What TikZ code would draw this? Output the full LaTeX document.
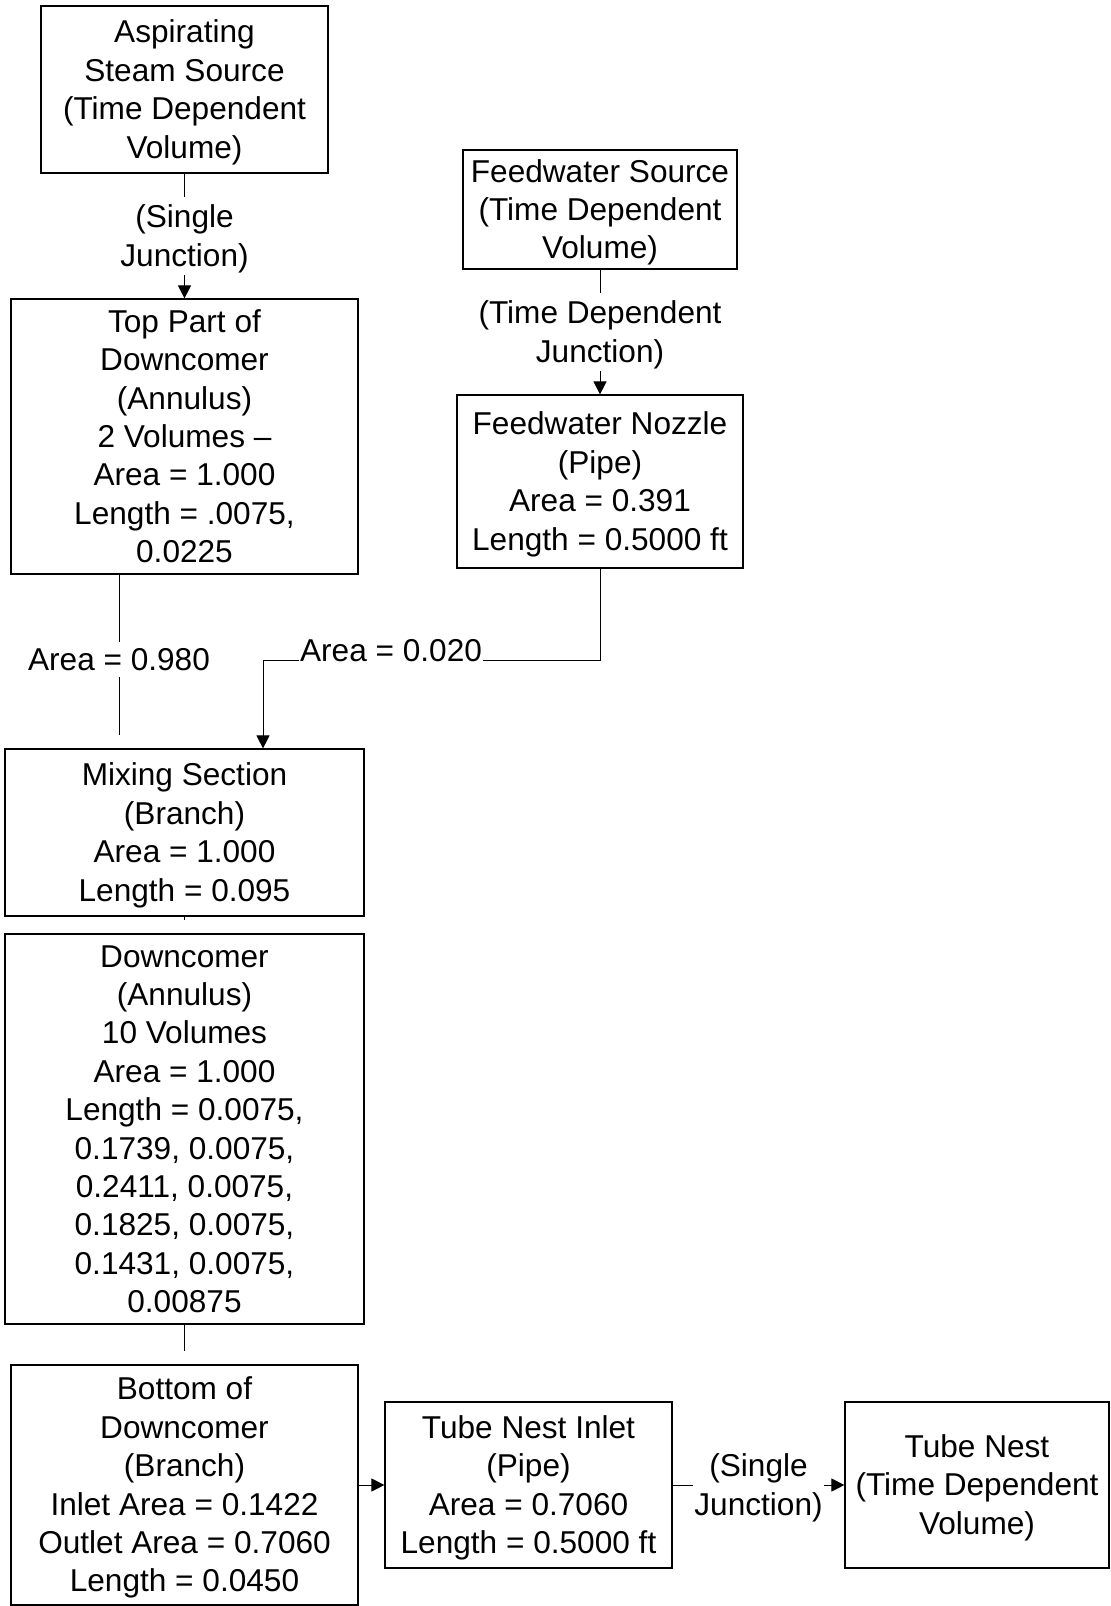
\documentclass[tikz,border=0pt]{standalone}
\usepackage{fontspec}
\setmainfont{Liberation Sans}
\usetikzlibrary{arrows.meta}

% linha com altura e profundidade fixas
\newcommand{\ls}{\rule[-0.212em]{0pt}{1.117em}}

\tikzset{
  every node/.style={font=\fontsize{15.8pt}{19.2pt}\selectfont},
  blk/.style={draw, line width=0.6pt, inner sep=0pt, align=center},
  lbl/.style={fill=white, inner xsep=0.5pt, inner ysep=3pt, align=center},
  jlbl/.style={lbl, inner ysep=1pt},
  arr/.style={line width=0.5pt, -{Triangle[length=6.5pt,width=6.5pt]}},
  stub/.style={line width=0.5pt, shorten >=6.5pt}
}

\begin{document}
\begin{tikzpicture}[x=0.5pt, y=-0.5pt]
        \useasboundingbox (0,0) rectangle (1111,1606);

        % Fontes
        \node[blk, minimum width=143.5pt, minimum height=83.5pt] (asp) at (184.5,89.5) {\ls Aspirating\\Steam Source\\(Time Dependent\\Volume)\ls};
        \node[blk, minimum width=137pt, minimum height=59.5pt] (fws) at (600,209.5) {\ls Feedwater Source\\(Time Dependent\\Volume)\ls};

        % Downcomer
        \node[blk, minimum width=173.5pt, minimum height=137.5pt] (top) at (184.5,436.5) {\ls Top Part of\\Downcomer\\(Annulus)\\2 Volumes --\\Area = 1.000\\Length = .0075,\\0.0225\ls};
        \node[blk, minimum width=143pt, minimum height=86.5pt] (fwn) at (600,481.5) {\ls Feedwater Nozzle\\(Pipe)\\Area = 0.391\\Length = 0.5000 ft\ls};
        \node[blk, minimum width=179.5pt, minimum height=83.5pt] (mix) at (184.5,832.5) {\ls Mixing Section\\(Branch)\\Area = 1.000\\Length = 0.095\ls};
        \node[blk, minimum width=179.5pt, minimum height=195pt] (dc) at (184.5,1129) {\ls Downcomer\\(Annulus)\\10 Volumes\\Area = 1.000\\Length = 0.0075,\\0.1739, 0.0075,\\0.2411, 0.0075,\\0.1825, 0.0075,\\0.1431, 0.0075,\\0.00875\ls};
        \node[blk, minimum width=173.5pt, minimum height=120pt] (bot) at (184.5,1485) {\ls Bottom of\\Downcomer\\(Branch)\\Inlet Area = 0.1422\\Outlet Area = 0.7060\\Length = 0.0450\ls};

        % Tube nest
        \node[blk, minimum width=143.5pt, minimum height=83pt] (tni) at (528.5,1485) {\ls Tube Nest Inlet\\(Pipe)\\Area = 0.7060\\Length = 0.5000 ft\ls};
        \node[blk, minimum width=132pt, minimum height=83pt] (tn) at (977,1485) {\ls Tube Nest\\(Time Dependent\\Volume)\ls};

        % Junções
        \coordinate (bend) at (263,660);
        \draw[arr] (asp) -- node[jlbl] {\ls(Single\\Junction)\ls} (top);
        \draw[arr] (fws) -- node[jlbl] {\ls(Time Dependent\\Junction)\ls} (fwn);
        \draw[stub] ([xshift=-32.75pt]top.south) -- node[lbl, yshift=1pt] {Area = 0.980} ([xshift=-32.75pt]mix.north);
        \draw[arr] (fwn.south) |- node[lbl, pos=0.81, yshift=4.5pt] {Area = 0.020} (bend) -- (mix.north -| bend);
        \draw[stub] (mix) -- (dc);
        \draw[stub] (dc) -- (bot);
        \draw[arr] (bot) -- (tni);
        \draw[arr] (tni) -- node[jlbl] {\ls(Single\\Junction)\ls} (tn);
      \end{tikzpicture}
\end{document}
